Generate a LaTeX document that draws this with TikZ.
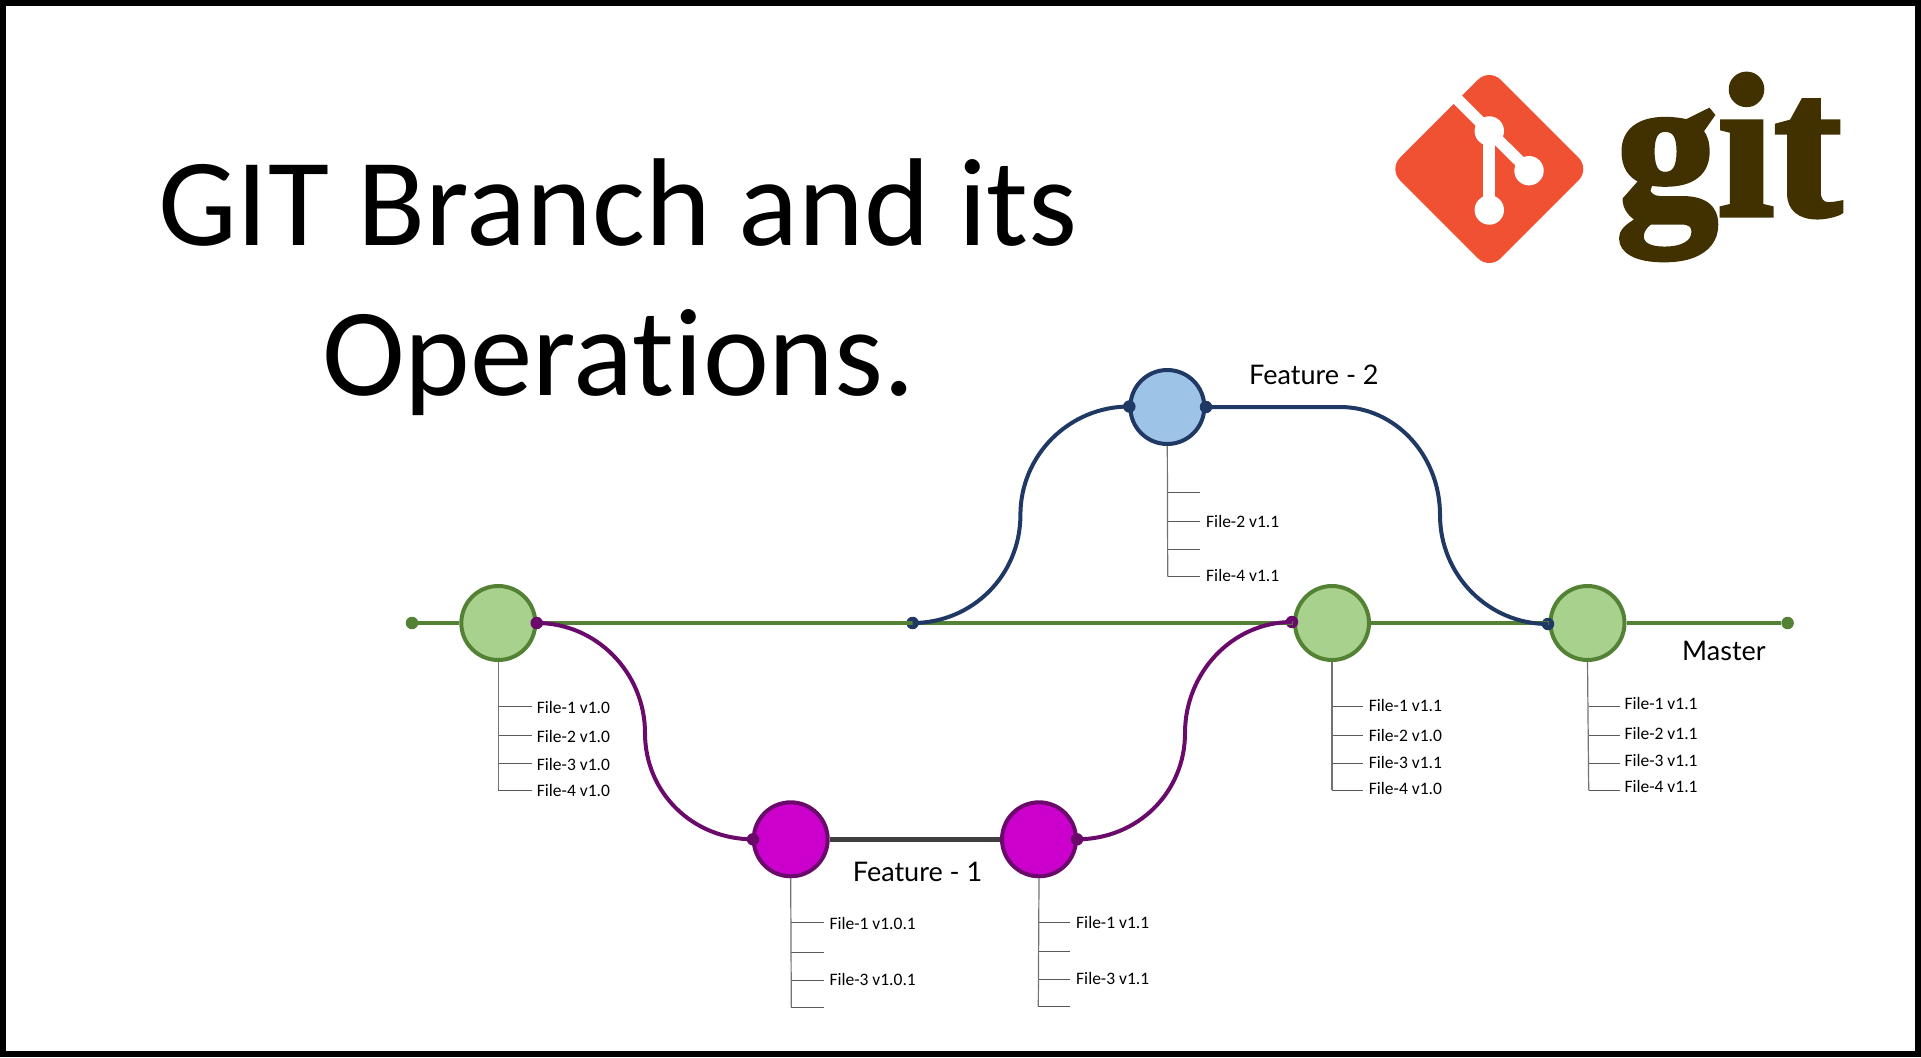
\documentclass[tikz,border=0pt]{standalone}
\usepackage{fontspec}
\setmainfont[Ligatures=NoCommon]{Carlito}
\newfontfamily\branchfont{Lato}
\newfontfamily\gitfont[FakeBold=2.5]{Liberation Serif Bold}
\definecolor{mastergreen}{HTML}{548235}
\definecolor{masterfill}{HTML}{A9D18E}
\definecolor{featplum}{HTML}{6A0A6A}
\definecolor{featmagenta}{HTML}{CC00CC}
\definecolor{featnavy}{HTML}{203864}
\definecolor{featblue}{HTML}{9DC3E6}
\definecolor{gitred}{HTML}{F05133}
\definecolor{gitbrown}{HTML}{413000}
\tikzset{
	commit/.style={circle, draw, line width=4pt, minimum size=74pt, inner sep=0pt},
	masterc/.style={commit, draw=mastergreen, fill=masterfill},
	feat1c/.style={commit, draw=featplum, fill=featmagenta},
	feat2c/.style={commit, draw=featnavy, fill=featblue},
	dot/.style={circle, fill=#1, minimum size=12.5pt, inner sep=0pt},
	masterline/.style={draw=mastergreen, line width=4pt},
	plumline/.style={draw=featplum, line width=4pt},
	navyline/.style={draw=featnavy, line width=4pt},
	trunk/.style={draw=black!55, line width=1.2pt},
	twig/.style={draw=black!65, line width=1pt},
	filelabel/.style={anchor=west, inner sep=0pt, font=\fontsize{17.5}{19}\selectfont},
	branchlabel/.style={inner sep=0pt, font=\branchfont\fontsize{27}{29}\selectfont},
	titletext/.style={anchor=base, inner sep=0pt, font=\fontsize{125}{130}\selectfont},
}
\begin{document}
\begin{tikzpicture}[x=1pt, y=-1pt]
	\useasboundingbox (0,0) rectangle (1921,1057);
	\draw[line width=6pt] (3,3) rectangle (1918,1054);

	\node[titletext] (title1) at (618,245) {GIT Branch and its};
	\node[titletext] (title2) at (618.5,395) {Operations.};

	% logo
	\fill[gitred, rounded corners=16pt] (1489.3,68.4) -- (1589.9,169) -- (1489.3,269.6) -- (1388.7,169) -- cycle;
	\draw[white, line width=11.7pt] (1455,97) -- (1529,170.7);
	\draw[white, line width=11.7pt] (1489.3,131) -- (1489.3,210);
	\foreach \x/\y in {1489.3/131, 1529/170.7, 1489.3/210} {
		\fill[white] (\x,\y) circle (14.7);
	}
	\node[anchor=base west, inner sep=0pt, text=gitbrown, font=\gitfont\fontsize{203}{206}\selectfont] (gitword) at (1616,215) {git};

	% commits
	\node[masterc] (c1) at (498.3,623) {};
	\node[masterc] (c2) at (1332,623) {};
	\node[masterc] (c3) at (1587.5,623) {};
	\node[feat1c] (p1) at (790.7,839.3) {};
	\node[feat1c] (p2) at (1039,839.3) {};
	\node[feat2c] (b1) at (1167.3,407) {};

	\node[dot=mastergreen] (mstart) at (412,623) {};
	\node[dot=mastergreen] (mend) at (1787.6,623) {};
	\node[dot=featplum] (d1) at (536.7,623) {};
	\node[dot=featplum] (d2) at (753,839.3) {};
	\node[dot=featplum] (d3) at (1077,839.3) {};
	\node[dot=featplum] (d4) at (1292,622) {};
	\node[dot=featnavy] (n1) at (912.6,623) {};
	\node[dot=featnavy] (n2) at (1129.3,406.5) {};
	\node[dot=featnavy] (n3) at (1206,407) {};
	\node[dot=featnavy] (n4) at (1548,624) {};

	\coordinate (k1) at (645,733);
	\coordinate (k2) at (1185,733);
	\coordinate (k3) at (1020.4,515);
	\coordinate (k4) at (1340,407);
	\coordinate (k5) at (1440,515);

	% master line
	\draw[masterline] (mstart) -- (c1);
	\draw[masterline] (c1) -- (c2);
	\draw[masterline] (c2) -- (c3);
	\draw[masterline] (c3) -- (mend);

	% feature 1
	\draw[plumline] (d1.center) .. controls +(60,0) and +(0,-60) .. (k1) .. controls +(0,60) and +(-60,0) .. (d2.center);
	\draw[draw=black!75, line width=4.5pt] (p1) -- (p2);
	\draw[plumline] (d3.center) .. controls +(60,0) and +(0,60) .. (k2) .. controls +(0,-60) and +(-60,0) .. (d4.center);

	% feature 2
	\draw[navyline] (n1.center) .. controls +(60,0) and +(0,60) .. (k3) .. controls +(0,-60) and +(-60,0) .. (n2.center);
	\draw[navyline] (n3.center) -- (k4) .. controls +(55,0) and +(0,-60) .. (k5) .. controls +(0,60) and +(-60,0) .. (n4.center);

	\node[branchlabel, anchor=west] (lab2) at (1249,375) {Feature - 2};
	\node[branchlabel, anchor=west] (lab1) at (852.7,872) {Feature - 1};
	\node[branchlabel, anchor=west] (labm) at (1682,651) {Master};

	% files, first commit
	\foreach \i/\y in {1/706, 2/735.3, 3/763.7, 4/790} {
		\coordinate (ca\i) at (498.3,\y);
		\coordinate (cb\i) at (531.7,\y);
		\draw[twig] (ca\i) -- (cb\i);
	}
	\draw[trunk] (c1.south) -- (ca4);
	\node[filelabel] (cf1) at (536.7,707) {File-1 v1.0};
	\node[filelabel] (cf2) at (536.7,736.5) {File-2 v1.0};
	\node[filelabel] (cf3) at (536.7,764) {File-3 v1.0};
	\node[filelabel] (cf4) at (536.7,790) {File-4 v1.0};

	% files, feature 1
	\foreach \i/\y in {1/922.7, 2/952.3, 3/980.3, 4/1007} {
		\coordinate (pa\i) at (791.3,\y);
		\coordinate (pb\i) at (824,\y);
		\draw[twig] (pa\i) -- (pb\i);
	}
	\draw[trunk] (p1.south) -- (pa4);
	\node[filelabel] (pf1) at (829.3,923) {File-1 v1.0.1};
	\node[filelabel] (pf3) at (829.3,979) {File-3 v1.0.1};

	\foreach \i/\y in {1/922, 2/951.3, 3/979.3, 4/1006.3} {
		\coordinate (qa\i) at (1038.3,\y);
		\coordinate (qb\i) at (1070,\y);
		\draw[twig] (qa\i) -- (qb\i);
	}
	\draw[trunk] (p2.south) -- (qa4);
	\node[filelabel] (qf1) at (1076,922) {File-1 v1.1};
	\node[filelabel] (qf3) at (1076,978) {File-3 v1.1};

	% files, feature 2
	\foreach \i/\y in {1/492.3, 2/521.3, 3/549.3, 4/576.7} {
		\coordinate (ba\i) at (1167.7,\y);
		\coordinate (bb\i) at (1200,\y);
		\draw[twig] (ba\i) -- (bb\i);
	}
	\draw[trunk] (b1.south) -- (ba4);
	\node[filelabel] (bf2) at (1206,521.5) {File-2 v1.1};
	\node[filelabel] (bf4) at (1206,575) {File-4 v1.1};

	% files, master
	\foreach \i/\y in {1/706.5, 2/735.7, 3/763.7, 4/790.3} {
		\coordinate (ma\i) at (1332,\y);
		\coordinate (mb\i) at (1363,\y);
		\draw[twig] (ma\i) -- (mb\i);
		\coordinate (na\i) at (1588.7,\y);
		\coordinate (nb\i) at (1620,\y);
		\draw[twig] (na\i) -- (nb\i);
	}
	\draw[trunk] (c2.south) -- (ma4);
	\draw[trunk] (c3.south) -- (na4);
	\node[filelabel] (mf1) at (1368.7,705) {File-1 v1.1};
	\node[filelabel] (mf2) at (1368.7,735) {File-2 v1.0};
	\node[filelabel] (mf3) at (1368.7,762) {File-3 v1.1};
	\node[filelabel] (mf4) at (1368.7,788.3) {File-4 v1.0};
	\node[filelabel] (nf1) at (1624.3,703.7) {File-1 v1.1};
	\node[filelabel] (nf2) at (1624.3,733.3) {File-2 v1.1};
	\node[filelabel] (nf3) at (1624.3,760.7) {File-3 v1.1};
	\node[filelabel] (nf4) at (1624.3,786.7) {File-4 v1.1};
\end{tikzpicture}
\end{document}
